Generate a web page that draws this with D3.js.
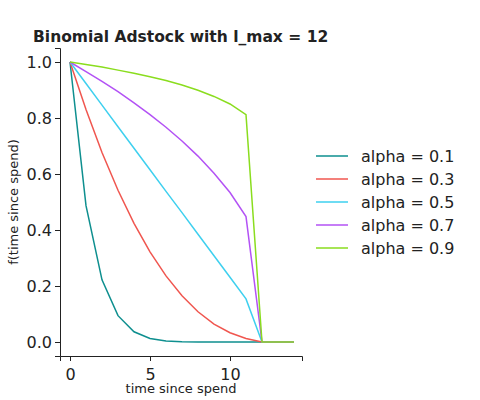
<!DOCTYPE html>
<html><head><meta charset="utf-8">
<script src="https://cdn.jsdelivr.net/npm/d3@7"></script>
<style>body{margin:0;background:#fff}svg{font-family:"DejaVu Sans",sans-serif}</style>
</head><body><svg id="chart" width="480" height="400"></svg>
<script>
const lags = [0,1,2,3,4,5,6,7,8,9,10,11,12,13,14];
const alphas = ['alpha = 0.1','alpha = 0.3','alpha = 0.5','alpha = 0.7','alpha = 0.9'];
const colors = ['#0e8f8f','#f0564f','#3ed0ef','#b352f5','#8add1e'];
const a01 = [1,0.487,0.222,0.094,0.0365,0.0126,0.0038,0.00095,0.0002,0.00003,0,0,0,0,0];
const a03 = [1,0.830,0.677,0.542,0.424,0.322,0.236,0.165,0.108,0.064,0.033,0.0127,0,0,0];
const a05 = [1,0.923,0.846,0.769,0.692,0.615,0.538,0.462,0.385,0.308,0.231,0.154,0,0,0];
const a07 = [1,0.966,0.931,0.894,0.854,0.812,0.767,0.718,0.664,0.603,0.534,0.448,0,0,0];
const a09 = [1,0.991,0.982,0.971,0.960,0.947,0.934,0.918,0.899,0.877,0.850,0.812,0,0,0];
const series = [a01,a03,a05,a07,a09];
const xTicks = [0,5,10];
const yTicks = [0,0.2,0.4,0.6,0.8,1.0];

const svg = d3.select('#chart');
const x = d3.scaleLinear().domain([-0.625,14.5]).range([60,302]);
const y = d3.scaleLinear().domain([-0.05,1.05]).range([356,48]);

svg.append('text').attr('x',33).attr('y',42).attr('font-size',15.5).attr('font-weight','bold')
    .attr('fill','#222').text('Binomial Adstock with l_max = 12');

const xAxis = svg.append('g').attr('transform','translate(0,356)')
    .call(d3.axisBottom(x).tickValues(xTicks).tickFormat(d3.format('d')).tickSizeOuter(0).tickSize(5));
const yAxis = svg.append('g').attr('transform','translate(60,0)')
    .call(d3.axisLeft(y).tickValues(yTicks).tickFormat(d3.format('.1f')).tickSizeOuter(0).tickSize(5));
[xAxis,yAxis].forEach(g => {
    g.selectAll('text').attr('font-size',16).attr('fill','#222').style('font-family','DejaVu Sans');
    g.selectAll('line,path').attr('stroke','#222');
});
xAxis.selectAll('text').attr('dy','1em');

svg.append('text').attr('x',181).attr('y',393).attr('text-anchor','middle').attr('font-size',13)
    .attr('fill','#222').text('time since spend');
svg.append('text').attr('transform','translate(18,202) rotate(-90)').attr('text-anchor','middle')
    .attr('font-size',13).attr('fill','#222').text('f(time since spend)');

const line = d3.line().x((d,i) => x(lags[i])).y(d => y(d));
series.forEach((s,i) => {
    svg.append('path').datum(s).attr('d',line).attr('fill','none')
        .attr('stroke',colors[i]).attr('stroke-width',1.5);
});

const legend = svg.append('g').attr('transform','translate(316,156)');
alphas.forEach((a,i) => {
    const g = legend.append('g').attr('transform',`translate(0,${i*23})`);
    g.append('line').attr('x1',0).attr('x2',32).attr('stroke',colors[i]).attr('stroke-width',1.5);
    g.append('text').attr('x',45).attr('dy','0.35em').attr('font-size',16).attr('fill','#222').text(a);
});
</script></body></html>
